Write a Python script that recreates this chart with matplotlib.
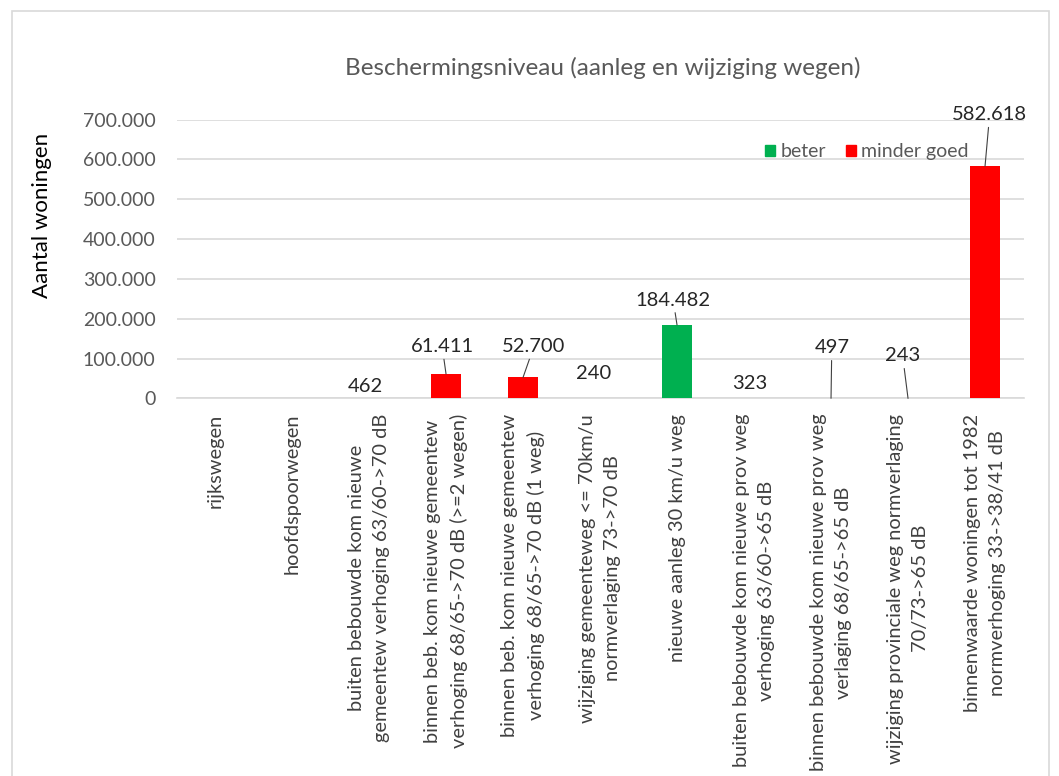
import matplotlib
matplotlib.use('Agg')
import matplotlib.pyplot as plt
from matplotlib.patches import Rectangle
from matplotlib.ticker import FuncFormatter

plt.rcParams['font.family'] = ['Lato', 'DejaVu Sans']

categories = [
    'rijkswegen',
    'hoofdspoorwegen',
    'buiten bebouwde kom nieuwe\ngemeentew verhoging 63/60->70 dB',
    'binnen beb. kom nieuwe gemeentew\nverhoging 68/65->70 dB (>=2 wegen)',
    'binnen beb. kom nieuwe gemeentew\nverhoging 68/65->70 dB (1 weg)',
    'wijziging gemeenteweg <= 70km/u\nnormverlaging 73->70 dB',
    'nieuwe aanleg 30 km/u weg',
    'buiten bebouwde kom nieuwe prov weg\nverhoging 63/60->65 dB',
    'binnen bebouwde kom nieuwe prov weg\nverlaging 68/65->65 dB',
    'wijziging provinciale weg normverlaging\n70/73->65 dB',
    'binnenwaarde woningen tot 1982\nnormverhoging 33->38/41 dB',
]
values = [0, 0, 462, 61411, 52700, 240, 184482, 323, 497, 243, 582618]
kind = ['minder goed', 'minder goed', 'minder goed', 'minder goed', 'minder goed',
        'beter', 'beter', 'minder goed', 'beter', 'beter', 'minder goed']
colors = {'beter': '#00B050', 'minder goed': '#FF0000'}

# where Excel put the data labels (category units, value units), None = no label
label_pos = [None, None, (1.95, 30000), (2.95, 130000), (4.14, 130000), (4.92, 62000),
             (5.95, 247000), (6.94, 37000), (8.01, 127000), (8.93, 107000), (10.06, 712000)]
leader = [False, False, False, True, True, False, True, False, True, True, True]


def dutch(v, pos=None):
    return f'{int(v):,}'.replace(',', '.')


fig = plt.figure(figsize=(10.59, 7.76), dpi=100)
ax = fig.add_axes([0.1667, 0.4865, 0.7998, 0.3595])

# chart border
fig.patches.append(Rectangle((12 / 1059, -0.1), (1049 - 12) / 1059, 1.1 - 11 / 776,
                             transform=fig.transFigure, fill=False,
                             edgecolor='#D9D9D9', linewidth=1.2))

x = range(len(values))
ax.bar(x, values, width=0.4, color=[colors[k] for k in kind], zorder=3)

ax.set_xlim(-0.5, len(values) - 0.5)
ax.set_ylim(0, 700000)
ax.set_yticks(range(0, 700001, 100000))
ax.yaxis.set_major_formatter(FuncFormatter(dutch))
ax.grid(axis='y', color='#D9D9D9', linewidth=1.2, zorder=0)
for s in ['top', 'right', 'left']:
    ax.spines[s].set_visible(False)
ax.spines['bottom'].set_color('#D9D9D9')
ax.spines['bottom'].set_linewidth(1.2)
ax.tick_params(axis='y', length=0, pad=15, labelsize=14, labelcolor='#595959')
ax.tick_params(axis='x', length=0, pad=11)
ax.set_xticks(list(x))
ax.set_xticklabels(categories, rotation=90, ha='center', va='top',
                   multialignment='center', fontsize=14.4, color='#404040',
                   linespacing=1.6)

for i, v in enumerate(values):
    if label_pos[i] is None:
        continue
    lx, ly = label_pos[i]
    props = None
    if leader[i]:
        props = dict(arrowstyle='-', color='#404040', lw=0.8, shrinkA=1, shrinkB=0)
    ax.annotate(dutch(v), xy=(i, v), xytext=(lx, ly), textcoords='data',
                ha='center', va='center', fontsize=14.5, color='#262626',
                arrowprops=props, annotation_clip=False, zorder=4)

fig.text(0.5695, 0.912, 'Beschermingsniveau (aanleg en wijziging wegen)',
         ha='center', va='center', fontsize=17.5, color='#595959')
fig.text(0.040, 0.722, 'Aantal woningen', rotation=90, ha='center', va='center',
         fontsize=16, color='#000000')

handles = [Rectangle((0, 0), 1, 1, color=colors[k]) for k in ['beter', 'minder goed']]
ax.legend(handles, ['beter', 'minder goed'], loc='center', bbox_to_anchor=(0.815, 0.885),
          ncol=2, frameon=False, fontsize=14, handlelength=0.52, handleheight=0.52,
          handletextpad=0.3, columnspacing=1.0, labelcolor='#595959')

fig.savefig('out.png', dpi=100)
